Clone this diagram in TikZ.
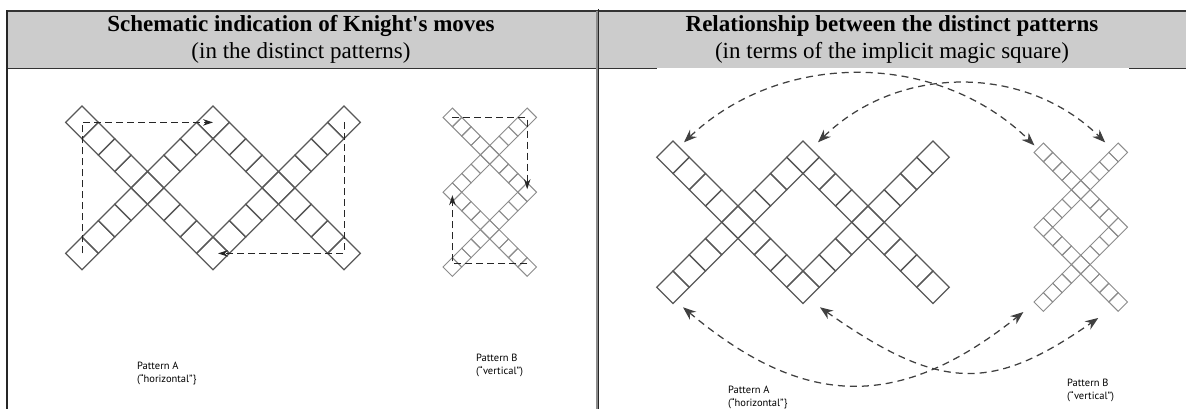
\documentclass[tikz,border=0pt]{standalone}
\usepackage{fontspec}
\setmainfont{Liberation Serif}
\newfontfamily\labelfont{PT Sans}
\usetikzlibrary{arrows.meta,calc}
\def\cellsH{0/0,1/1,2/2,3/3,4/4,5/5,6/6,7/7,8/8,0/8,1/7,2/6,3/5,5/3,6/2,7/1,8/0,9/1,10/2,11/3,12/4,13/5,14/6,15/7,16/8,9/7,10/6,11/5,13/3,14/2,15/1,16/0}
\begin{document}
\begin{tikzpicture}[x=1pt,y=-1pt,
  cellA/.style={draw=black!65, line width=1.15pt},
  cellB/.style={draw=black!45, line width=0.95pt},
  knight/.style={draw=black!85, line width=1pt, dash pattern=on 7pt off 4pt},
  tipk/.style={-{Stealth[length=10pt,width=6.5pt]}},
  relation/.style={draw=black!75, line width=1.25pt, dash pattern=on 7pt off 5pt,
    {Stealth[length=13pt,width=10pt]}-{Stealth[length=13pt,width=10pt]}},
  lbl/.style={font=\labelfont\fontsize{10.5}{13}\selectfont, align=left, anchor=north west, inner sep=0pt},
  head/.style={align=center, inner sep=0pt, font=\fontsize{23}{26.5}\selectfont},
  rule/.style={draw=black!80, line width=1.5pt}
]
\useasboundingbox (0,0) rectangle (1186,409);
\fill[white] (0,0) rectangle (1186,409);
% table header
\fill[black!20] (6,11) rectangle (1186,68.5);
\draw[rule] (6,11) -- (1186,11);
\draw[rule] (6,68.5) -- (596,68.5);
\draw[rule] (599,68.5) -- (657,68.5);
\draw[rule] (1129,68.5) -- (1186,68.5);
\draw[draw=black!85, line width=1.5pt] (6.8,10.3) -- (6.8,409);
\draw[draw=black!45, line width=2pt] (596.5,11) -- (596.5,409);
\draw[draw=black!85, line width=1pt] (598.8,9) -- (598.8,409);
\node[head] (hl) at (301,39.5) {\textbf{Schematic indication of Knight\textquotesingle s moves}\\(in the distinct patterns)};
\node[head] (hr) at (892,39.5) {\textbf{Relationship between the distinct patterns}\\(in terms of the implicit magic square)};

% left panel, pattern A
\begin{scope}[shift={(82,122.4)}, x=16.375pt, y=-16.375pt]
  \foreach \i/\j in \cellsH {\draw[cellA] (\i,\j-1) -- (\i+1,\j) -- (\i,\j+1) -- (\i-1,\j) -- cycle;}
  \coordinate (LA-TL) at (0,0); \coordinate (LA-TM) at (8,0); \coordinate (LA-TR) at (16,0);
  \coordinate (LA-BL) at (0,8); \coordinate (LA-BM) at (8,8); \coordinate (LA-BR) at (16,8);
\end{scope}
\draw[knight, tipk] (LA-BL) -- (LA-TL) -- (LA-TM);
\draw[knight, tipk, shorten >=5pt] (LA-TR) -- (LA-BR) -- (LA-BM);

% left panel, pattern B
\begin{scope}[shift={(452.4,117.4)}, x=9.35pt, y=-9.35pt]
  \foreach \j/\i in \cellsH {\draw[cellB] (\i,\j-1) -- (\i+1,\j) -- (\i,\j+1) -- (\i-1,\j) -- cycle;}
  \coordinate (LB-TL) at (0,0); \coordinate (LB-TR) at (8,0);
  \coordinate (LB-ML) at (0,8); \coordinate (LB-MR) at (8,8);
  \coordinate (LB-BL) at (0,16); \coordinate (LB-BR) at (8,16);
\end{scope}
\draw[knight, tipk, shorten >=3pt] (LB-TL) -- (LB-TR) -- (LB-MR);
\draw[knight, tipk, shorten >=3pt] ($(LB-BR)+(0,-3.5)$) -- ($(LB-BL)+(0,-3.5)$) -- (LB-ML);

\node[lbl] (la) at (137,362) {Pattern A\\(“horizontal”\}};
\node[lbl] (lb) at (476,354) {Pattern B\\(“vertical”)};

% right panel, pattern A
\begin{scope}[shift={(673,157.3)}, x=16.25pt, y=-16.25pt]
  \foreach \i/\j in \cellsH {\draw[cellA] (\i,\j-1) -- (\i+1,\j) -- (\i,\j+1) -- (\i-1,\j) -- cycle;}
  \coordinate (RA-TL) at (0,0); \coordinate (RA-TM) at (8,0);
  \coordinate (RA-BL) at (0,8); \coordinate (RA-BM) at (8,8);
\end{scope}
% right panel, pattern B
\begin{scope}[shift={(1043.4,152.4)}, x=9.35pt, y=-9.35pt]
  \foreach \j/\i in \cellsH {\draw[cellB] (\i,\j-1) -- (\i+1,\j) -- (\i,\j+1) -- (\i-1,\j) -- cycle;}
  \coordinate (RB-TL) at (0,0); \coordinate (RB-TR) at (8,0);
  \coordinate (RB-BL) at (0,16); \coordinate (RB-BR) at (8,16);
\end{scope}
\coordinate (a1) at ($(RA-TL)+(11,-15)$);
\coordinate (a2) at ($(RA-TM)+(15,-15)$);
\coordinate (b1) at ($(RB-TL)+(-9,-7)$);
\coordinate (b2) at ($(RB-TR)+(-13,-10)$);
\coordinate (a3) at ($(RA-BL)+(10,20)$);
\coordinate (a4) at ($(RA-BM)+(17,20)$);
\coordinate (b3) at ($(RB-BL)+(-20,10)$);
\coordinate (b4) at ($(RB-BR)+(-20,16)$);
\draw[relation] (a1) .. controls +(97,-92) and +(-97,-95) .. (b1);
\draw[relation] (a2) .. controls +(80,-78) and +(-80,-79) .. (b2);
\draw[relation] (a3) .. controls +(123,103) and +(-123,98) .. (b3);
\draw[relation] (a4) .. controls +(121,85) and +(-106,74) .. (b4);

\node[lbl] (ra) at (728,386) {Pattern A\\(“horizontal”\}};
\node[lbl] (rb) at (1067,379) {Pattern B\\(“vertical”)};
\end{tikzpicture}
\end{document}
